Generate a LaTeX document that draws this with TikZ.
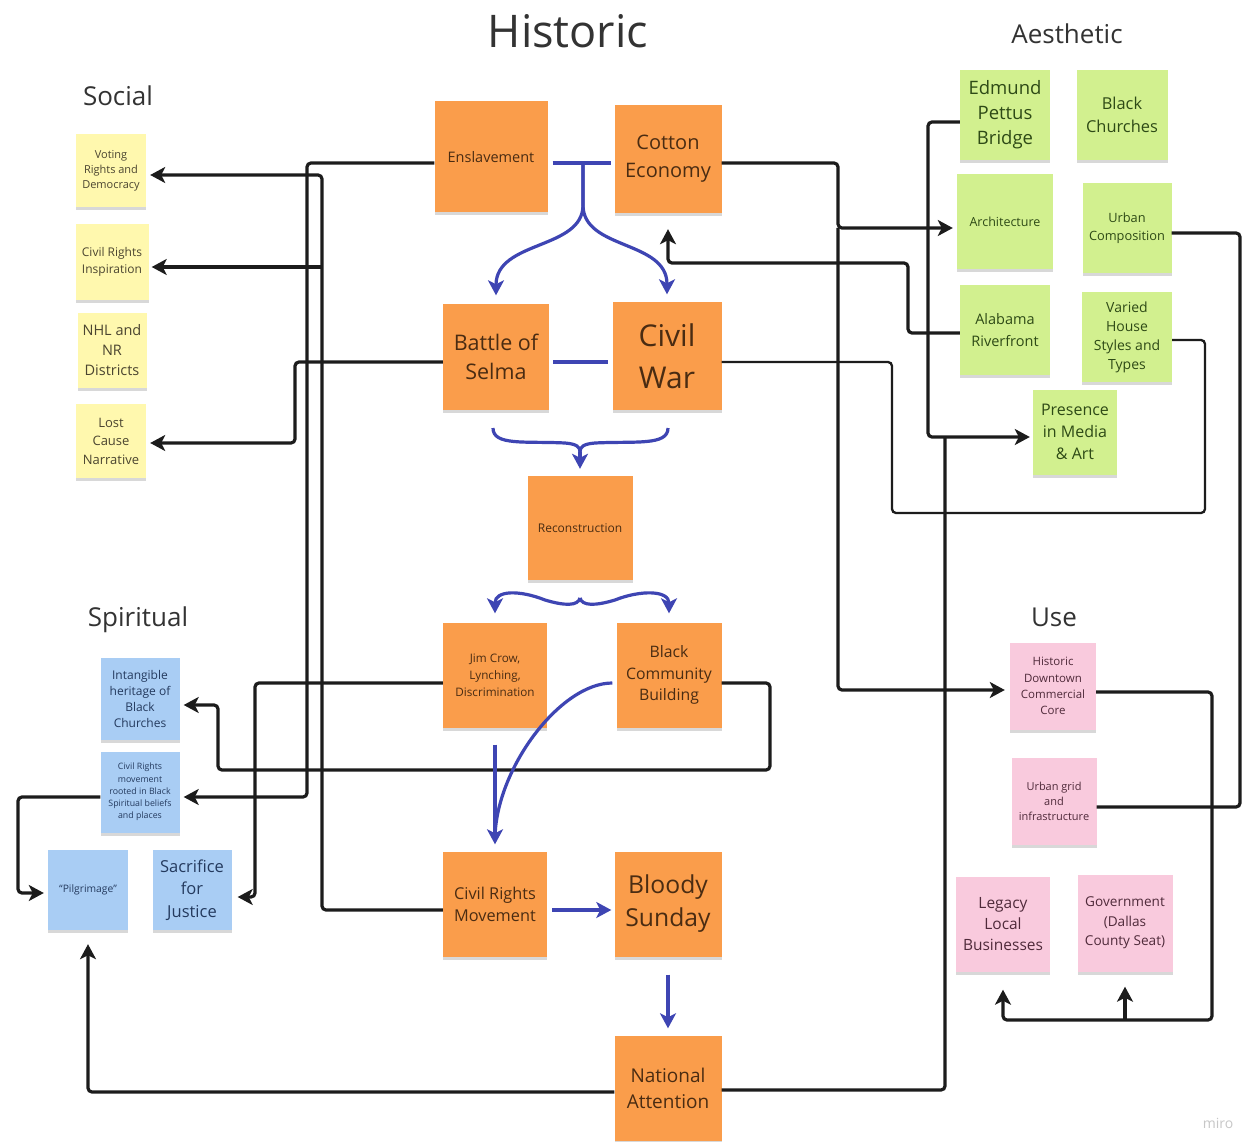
\documentclass[tikz,border=0pt]{standalone}
\usepackage{fontspec}
\setmainfont{Open Sans}
\usetikzlibrary{arrows.meta,shadows}
\newcommand\fs[2]{\fontsize{#1}{#2}\selectfont}
\definecolor{orangeN}{HTML}{FA9D4B}
\definecolor{orangeT}{HTML}{4A2C12}
\definecolor{yellowN}{HTML}{FFF8AE}
\definecolor{yellowT}{HTML}{4B4530}
\definecolor{blueN}{HTML}{A9CDF4}
\definecolor{blueT}{HTML}{243A5E}
\definecolor{greenN}{HTML}{D2F08F}
\definecolor{greenT}{HTML}{2E4A16}
\definecolor{pinkN}{HTML}{F9CADD}
\definecolor{pinkT}{HTML}{4F2A3A}
\definecolor{lineK}{HTML}{1C1C1C}
\definecolor{lineB}{HTML}{3E45B3}
\definecolor{headC}{HTML}{333333}
\begin{document}
\begin{tikzpicture}[x=1pt,y=-1pt,
 note/.style={inner sep=0pt, align=center, drop shadow={shadow xshift=0pt,shadow yshift=-3pt,opacity=0.3}},
 sz/.style 2 args={minimum width=#1pt,minimum height=#2pt},
 hist/.style={note,fill=orangeN,text=orangeT},
 soc/.style={note,fill=yellowN,text=yellowT},
 spir/.style={note,fill=blueN,text=blueT},
 aes/.style={note,fill=greenN,text=greenT},
 usec/.style={note,fill=pinkN,text=pinkT},
 head/.style={text=headC, inner sep=0pt, anchor=base},
 blk/.style={draw=lineK, line width=3.2pt, rounded corners=4pt},
 thinblk/.style={blk, line width=2.3pt},
 blu/.style={draw=lineB, line width=3.2pt},
 tip/.style={-{Stealth[length=15pt,width=16pt,inset=4pt]}},
]
\fill[white] (0,0) rectangle (1243,1142);
\useasboundingbox (0,0) rectangle (1243,1142);

% headings
\node[head,font={\fs{45}{54}}] (hHist) at (568,48) {Historic};
\node[head,font={\fs{26}{32}}] (hSoc) at (118,106) {Social};
\node[head,font={\fs{26}{32}}] (hSpir) at (138,626) {Spiritual};
\node[head,font={\fs{26}{32}}] (hAes) at (1067,44) {Aesthetic};
\node[head,font={\fs{26}{32}}] (hUse) at (1054,626) {Use};
\node[text=black!22,inner sep=0pt,anchor=base,font={\fs{14}{16}}] (wm) at (1218,1128) {miro};

% Historic
\node[hist,sz={113}{111},font={\fs{14.5}{20}}] (ensl) at (491,157) {Enslavement};
\node[hist,sz={107}{108},font={\fs{20}{28}}] (cotton) at (668,159) {Cotton\\Economy};
\node[hist,sz={106}{105},font={\fs{21.5}{29}}] (selma) at (496,357) {Battle of\\Selma};
\node[hist,sz={109}{107},font={\fs{30}{42}}] (cw) at (667,356) {Civil\\War};
\node[hist,sz={105}{104},font={\fs{12}{16}}] (recon) at (580,528) {Reconstruction};
\node[hist,sz={104}{105},font={\fs{11.7}{17}}] (jim) at (495,675) {Jim Crow,\\Lynching,\\Discrimination};
\node[hist,sz={105}{105},font={\fs{15.8}{21.5}}] (bcb) at (669,675) {Black\\Community\\Building};
\node[hist,sz={104}{105},font={\fs{16.3}{22}}] (crm) at (495,904) {Civil Rights\\Movement};
\node[hist,sz={107}{105},font={\fs{24.7}{33}}] (bloody) at (668,904) {Bloody\\Sunday};
\node[hist,sz={107}{105},font={\fs{19}{26}}] (nat) at (668,1088) {National\\Attention};

% Social
\node[soc,sz={70}{73},font={\fs{11}{15}}] (vote) at (111,171) {Voting\\Rights and\\Democracy};
\node[soc,sz={73}{76},font={\fs{12}{17}}] (cri) at (112,262) {Civil Rights\\Inspiration};
\node[soc,sz={69}{75},font={\fs{14.5}{20}}] (nhl) at (112,350) {NHL and\\NR\\Districts};
\node[soc,sz={70}{74},font={\fs{13}{18.5}}] (lost) at (111,441) {Lost\\Cause\\Narrative};

% Spiritual
\node[spir,sz={79}{82},font={\fs{12}{16.3}}] (intang) at (140,699) {Intangible\\heritage of\\Black\\Churches};
\node[spir,sz={79}{81},font={\fs{8.8}{12.2}}] (crr) at (140,792) {Civil Rights\\movement\\rooted in Black\\Spiritual beliefs\\and places};
\node[spir,sz={80}{80},font={\fs{10.3}{14}}] (pil) at (88,890) {``Pilgrimage''};
\node[spir,sz={79}{80},font={\fs{16.5}{22.5}}] (sac) at (192,890) {Sacrifice\\for\\Justice};

% Aesthetic
\node[aes,sz={90}{90},font={\fs{18.5}{25}}] (epb) at (1005,115) {Edmund\\Pettus\\Bridge};
\node[aes,sz={91}{90},font={\fs{16.4}{23}}] (bch) at (1122,115) {Black\\Churches};
\node[aes,sz={96}{95},font={\fs{12.5}{17}}] (arch) at (1005,222) {Architecture};
\node[aes,sz={89}{90},font={\fs{12.8}{18}}] (urbc) at (1127,228) {Urban\\Composition};
\node[aes,sz={90}{90},font={\fs{14.5}{22}}] (alab) at (1005,330) {Alabama\\Riverfront};
\node[aes,sz={90}{90},font={\fs{14}{19}}] (varied) at (1127,337) {Varied\\House\\Styles and\\Types};
\node[aes,sz={84}{85},font={\fs{16}{22}}] (pres) at (1075,432) {Presence\\in Media\\\&~Art};

% Use
\node[usec,sz={86}{87},font={\fs{11.5}{16.3}}] (hdc) at (1053,686) {Historic\\Downtown\\Commercial\\Core};
\node[usec,sz={85}{87},font={\fs{11}{15}}] (urbg) at (1054,801) {Urban grid\\and\\infrastructure};
\node[usec,sz={94}{95},font={\fs{15.5}{21}}] (legacy) at (1003,924) {Legacy\\Local\\Businesses};
\node[usec,sz={95}{97},font={\fs{13.6}{19.5}}] (gov) at (1125,923) {Government\\(Dallas\\County Seat)};

% black connectors
\draw[blk,tip,shorten >=4pt] (ensl.west |- 0,163) -| (307,797) -- (crr.east |- 0,797);
\draw[blk,tip,shorten >=4pt] (crm.west |- 0,910) -| (322,175) -- (vote.east |- 0,175);
\draw[blk,tip,shorten >=3pt] (322,267) -- (cri.east |- 0,267);
\draw[blk,tip,shorten >=4pt] (selma.west |- 0,362) -| (295,443) -- (lost.east |- 0,443);
\draw[blk,tip,shorten >=6pt] (jim.west |- 0,683) -| (255,897) -- (sac.east |- 0,897);
\draw[blk,tip,shorten >=4pt] (bcb.east |- 0,683) -| (770,770) -| (218,705) -- (intang.east |- 0,705);
\draw[blk,tip,shorten >=4pt] (crr.west |- 0,797) -| (18,893) -- (pil.west |- 0,893);
\draw[blk,tip,shorten >=14pt] (nat.west |- 0,1092) -| (pil.south);
\draw[blk] (nat.east |- 0,1090) -| (945,437);
\draw[blk,tip,shorten >=3pt] (epb.west |- 0,122) -| (928,437) -- (pres.west |- 0,437);
\draw[blk,tip,shorten >=4pt] (cotton.east |- 0,163) -| (838,228) -- (arch.west |- 0,228);
\draw[blk,tip,shorten >=5pt] (838,228) |- (hdc.west |- 0,690);
\draw[blk,tip,shorten >=16pt] (alab.west |- 0,333) -| (908,263) -| (cotton.south);
\draw[thinblk] (cw.east |- 0,362) -| (892,513) -| (1205,340) -- (varied.east |- 0,340);
\draw[blk] (urbc.east |- 0,233) -| (1240,807) -- (urbg.east |- 0,807);
\draw[blk,tip,shorten >=18pt] (hdc.east |- 0,692) -| (1212,1020) -| (legacy.south);
\draw[blk,tip,shorten >=15pt] (gov.south |- 0,1020) -- (gov.south);

% blue connectors
\draw[blu,shorten <=5pt,shorten >=3pt] (ensl.east |- 0,163) -- (cotton.west |- 0,163);
\coordinate (sp) at (583,163);
\draw[blu,tip,shorten >=9pt] (sp) -- (583,205) .. controls (583,250) and (496,240) .. (selma.north);
\draw[blu,tip,shorten >=8pt] (sp) -- (583,205) .. controls (583,250) and (667,240) .. (cw.north);
\draw[blu,shorten <=4pt,shorten >=4pt] (selma.east |- 0,362) -- (cw.west |- 0,362);

\coordinate (b4l) at (493,428);
\coordinate (b4r) at (668,428);
\coordinate (b4m) at (580,452);
\draw[blu] (b4l) .. controls (493,446) and (525,441) .. (565,443) .. controls (577,444) and (580,447) .. (b4m);
\draw[blu] (b4r) .. controls (668,446) and (635,441) .. (595,443) .. controls (583,444) and (580,447) .. (b4m);
\draw[blu,tip,shorten >=7pt] (b4m) -- (recon.north);

\coordinate (b5m) at (580,598);
\draw[blu,tip,shorten >=9pt] (b5m) .. controls (578,606) and (565,606) .. (545,600) .. controls (520,590) and (495,590) .. (jim.north);
\draw[blu,tip,shorten >=9pt] (b5m) .. controls (582,606) and (595,606) .. (615,600) .. controls (640,590) and (669,590) .. (bcb.north);

\draw[blu,tip,shorten <=17pt,shorten >=7pt] (jim.south) -- (crm.north);
\draw[blu,shorten <=4pt,shorten >=12pt] (bcb.west |- 0,683) .. controls (560,683) and (495,770) .. (crm.north);
\draw[blu,tip,shorten <=5pt,shorten >=3pt] (crm.east |- 0,910) -- (bloody.west |- 0,910);
\draw[blu,tip,shorten <=18pt,shorten >=7pt] (bloody.south) -- (nat.north);
\end{tikzpicture}
\end{document}
